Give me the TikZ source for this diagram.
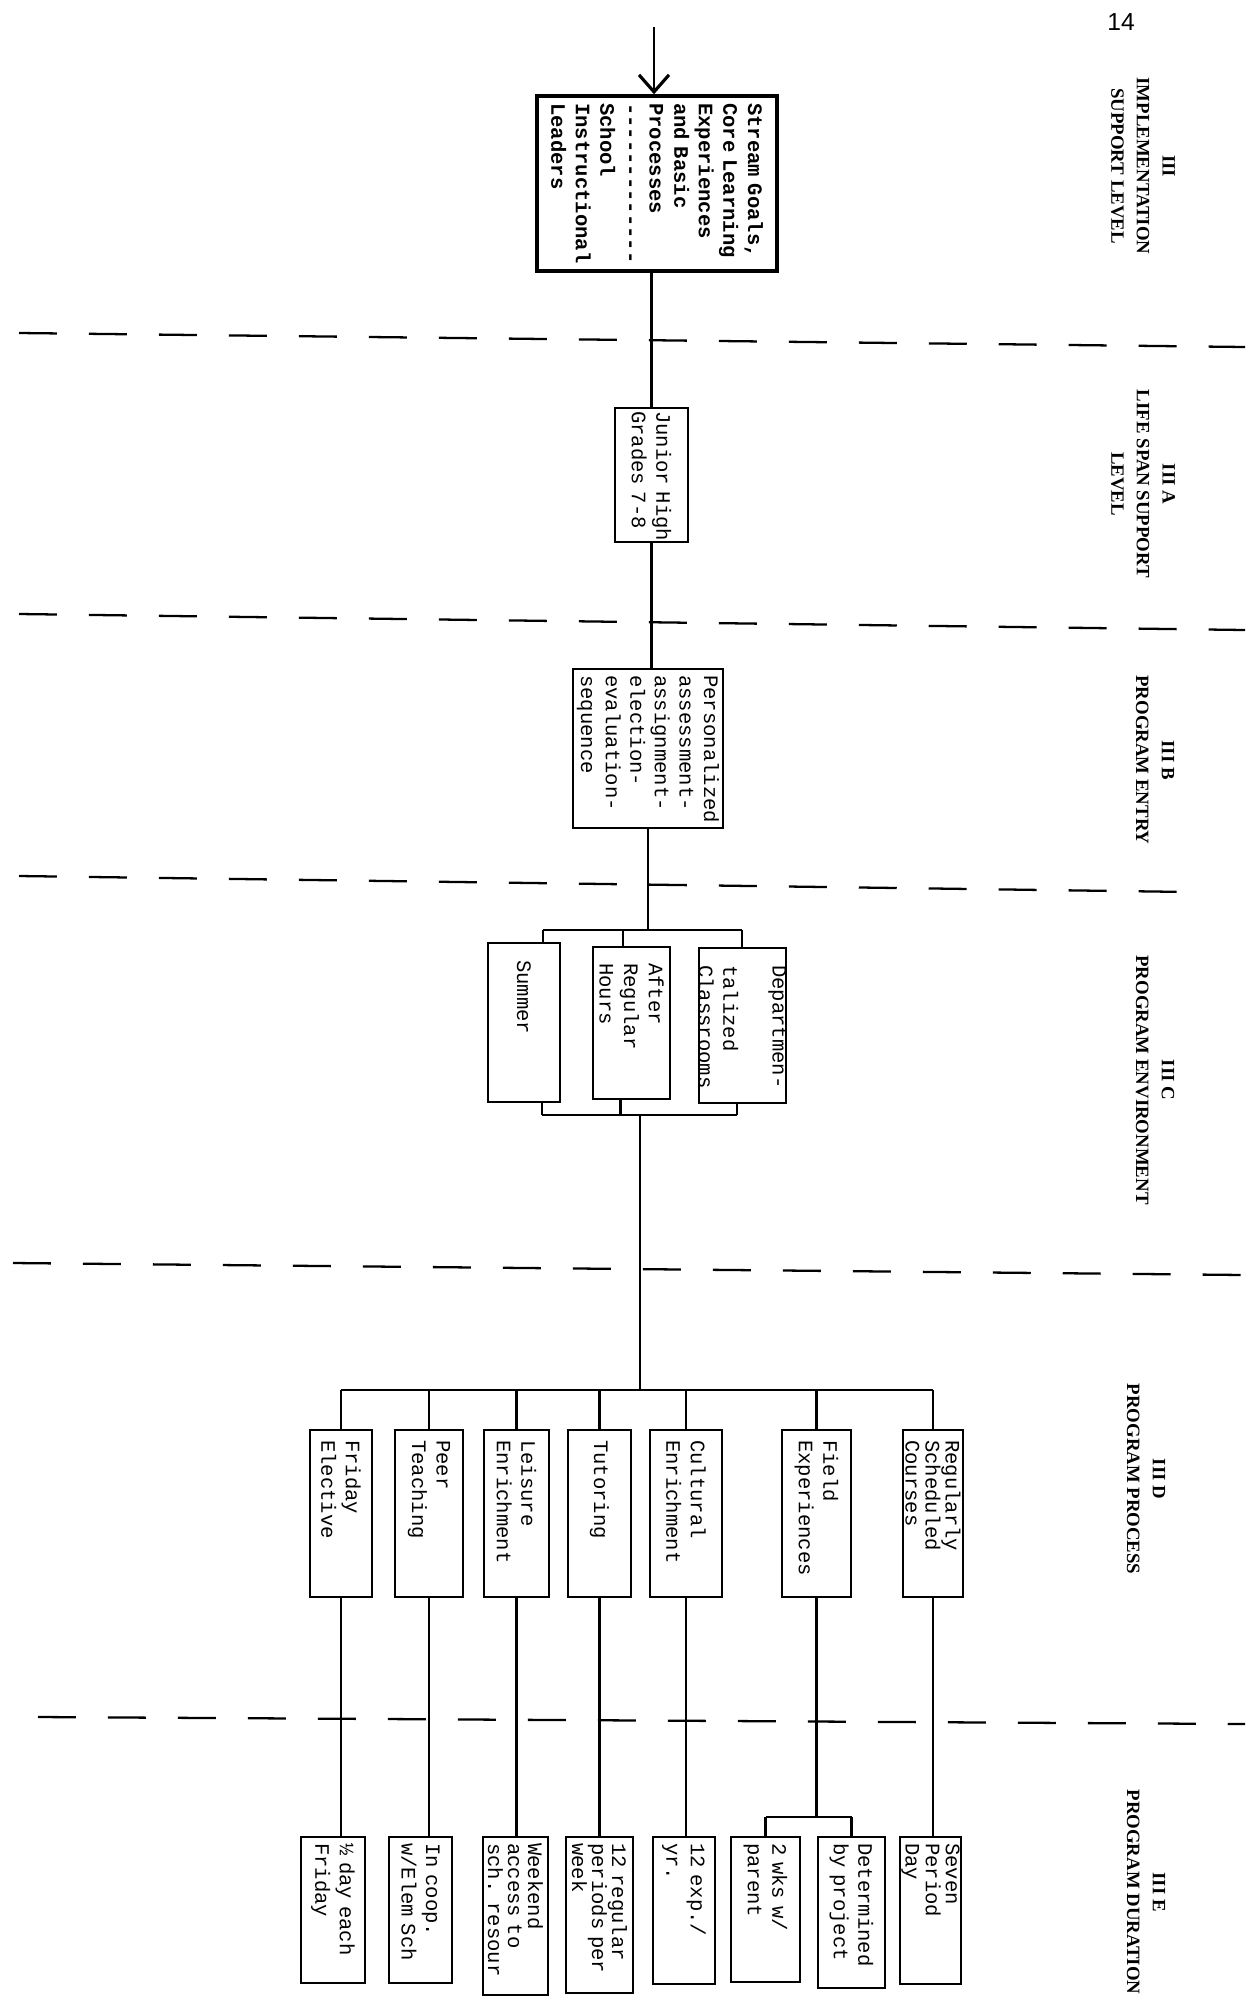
\documentclass[tikz,border=0pt]{standalone}
\usepackage{fontspec}
\usetikzlibrary{arrows.meta}
\newfontfamily\tyfont{Liberation Mono}
\newfontfamily\capsfont{Liberation Serif}
\newfontfamily\pgnfont{Liberation Sans}
\begin{document}
\begin{tikzpicture}[x=0.02cm, y=-0.02cm,
  bx/.style={draw, rotate=-90, align=left, inner ysep=0pt, line width=1.3pt,
    font=\tyfont\fontsize{11.7}{14}\selectfont},
  tight/.style={font=\tyfont\fontsize{11.7}{11.4}\selectfont},
  sz/.style n args={3}{minimum height=#1, text width=#2, inner xsep=#3},
  wire/.style={line width=1.3pt},
  lvl/.style={line width=1.3pt, dash pattern=on 0.76cm off 0.64cm},
  lab/.style={rotate=-90, align=center, inner sep=0pt,
    font=\capsfont\bfseries\fontsize{10.7}{14.6}\selectfont}]
\useasboundingbox (0,0) rectangle (1248,2002);

% page number
\node[font=\pgnfont\fontsize{14}{14}\selectfont, inner sep=0pt] (pg) at (1121,22) {14};

% level headings
\node[lab] (lvl0) at (1143,166) {III\\IMPLEMENTATION\\SUPPORT LEVEL};
\node[lab] (lvlA) at (1143,484) {III A\\LIFE SPAN SUPPORT\\LEVEL};
\node[lab] (lvlB) at (1155,760) {III B\\PROGRAM ENTRY};
\node[lab] (lvlC) at (1155,1080) {III C\\PROGRAM ENVIRONMENT};
\node[lab] (lvlD) at (1146,1479) {III D\\PROGRAM PROCESS};
\node[lab] (lvlE) at (1146,1892) {III E\\PROGRAM DURATION};

% level separators
\draw[lvl] (19,333) -- (1245,347);
\draw[lvl] (19,614) -- (1245,630);
\draw[lvl] (19,876) -- (1190,892);
\draw[lvl] (13,1263) -- (1245,1275);
\draw[lvl] (38,1717) -- (1245,1724);

% III: implementation support
\node[bx, line width=2pt, font=\tyfont\bfseries\fontsize{11.7}{14}\selectfont,
  sz={4.8cm}{3.22cm}{0.14cm}] (top) at (657,183.5)
  {Stream Goals,\\Core Learning\\Experiences\\and Basic\\Processes\\-{}-{}-{}-{}-{}-{}-{}-{}-{}-{}-{}-{}-\\School\\Instructional\\Leaders};

% III A
\node[bx, sz={1.46cm}{2.56cm}{0.06cm}] (jh) at (651.5,475) {Junior~High\\Grades~7-8};

% III B
\node[bx, sz={3.0cm}{2.94cm}{0.12cm}] (pers) at (648,748.5)
  {Personalized\\assessment-\\assignment-\\election-\\evaluation-\\sequence};

% III C
\node[bx, sz={1.44cm}{2.5cm}{0.34cm}] (summer) at (524,1022.5) {Summer};
\node[bx, sz={1.54cm}{2.4cm}{0.32cm}] (after) at (631.5,1023) {After\\Regular\\Hours};
\node[bx, sz={1.42cm}{2.42cm}{0.34cm}] (dept) at (742.5,1025.5) {Departmen-\\talized\\Classrooms};

% III D
\node[bx, sz={1.24cm}{2.94cm}{0.2cm}] (fri) at (341,1513.5) {Friday\\Elective};
\node[bx, sz={1.36cm}{2.94cm}{0.2cm}] (peer) at (429,1513.5) {Peer\\Teaching};
\node[bx, sz={1.3cm}{2.94cm}{0.2cm}] (leis) at (516.5,1513.5) {Leisure\\Enrichment};
\node[bx, sz={1.26cm}{2.94cm}{0.2cm}] (tut) at (599.5,1513.5) {Tutoring};
\node[bx, sz={1.44cm}{2.94cm}{0.2cm}] (cult) at (686,1513.5) {Cultural\\Enrichment};
\node[bx, sz={1.38cm}{2.94cm}{0.2cm}] (field) at (816.5,1513.5) {Field\\Experiences};
\node[bx, tight, sz={1.2cm}{2.94cm}{0.2cm}] (reg) at (933,1513.5) {Regularly\\Scheduled\\Courses};

% III E
\node[bx, sz={1.28cm}{2.68cm}{0.12cm}] (half) at (333,1910) {½ day each\\Friday};
\node[bx, sz={1.26cm}{2.68cm}{0.12cm}] (coop) at (420.5,1910) {In coop.\\w/Elem Sch};
\node[bx, tight, sz={1.3cm}{2.92cm}{0.12cm}] (wknd) at (515.5,1916) {Weekend\\access to\\sch. resour};
\node[bx, tight, sz={1.34cm}{2.88cm}{0.12cm}] (reg12) at (599.5,1915) {12 regular\\periods per\\week};
\node[bx, sz={1.24cm}{2.7cm}{0.12cm}] (exp) at (684,1910.5) {12 exp./\\yr.};
\node[bx, sz={1.38cm}{2.66cm}{0.12cm}] (wks) at (765.5,1909.5) {2 wks w/\\parent};
\node[bx, sz={1.34cm}{2.78cm}{0.12cm}] (det) at (851.5,1912.5) {Determined\\by project};
\node[bx, tight, sz={1.22cm}{2.7cm}{0.12cm}] (seven) at (930.5,1910.5) {Seven\\Period\\Day};

% incoming arrow and the chain down to the environments
\coordinate (src) at (654,27);
\draw[wire, -{Straight Barb[length=0.34cm, width=0.6cm, line width=1.8pt]}] (src) -- (src |- top.west);
\draw[wire] (jh.west) -- (jh.west |- top.east);
\draw[wire] (jh.east) -- (jh.east |- pers.west);

% environment bracket
\coordinate (eTL) at (543,930);
\coordinate (eTR) at (742,930);
\coordinate (eBL) at (542,1115);
\coordinate (eBR) at (737,1115);
\coordinate (eBm) at (640,1115);
\draw[wire] (pers.east) -- (pers.east |- eTL);
\draw[wire] (eTL) -- (eTR);
\draw[wire] (eTL) -- (eTL |- summer.west);
\draw[wire] ([xshift=-0.17cm]after.west) -- ([xshift=-0.17cm]after.west |- eTL);
\draw[wire] (eTR) -- (eTR |- dept.west);
\draw[wire] (eBL) -- (eBR);
\draw[wire] (summer.east -| eBL) -- (eBL);
\draw[wire] ([xshift=-0.22cm]after.east) -- ([xshift=-0.22cm]after.east |- eBL);
\draw[wire] (dept.east -| eBR) -- (eBR);

% process bar
\coordinate (pL) at (341,1390);
\coordinate (pR) at (933,1390);
\draw[wire] (eBm) -- (eBm |- pL);
\draw[wire] (pL) -- (pR);
\foreach \n in {fri,peer,leis,tut,cult,field,reg}
  \draw[wire] (\n.west) -- (\n.west |- pL);

% process to duration
\foreach \a/\b in {fri/half,peer/coop,leis/wknd,tut/reg12,cult/exp,reg/seven}
  \draw[wire] (\a.east) -- (\a.east |- \b.west);
\coordinate (fS) at (816,1817);
\draw[wire] (field.east) -- (field.east |- fS);
\draw[wire] (wks.west |- fS) -- (det.west |- fS);
\draw[wire] (wks.west) -- (wks.west |- fS);
\draw[wire] (det.west) -- (det.west |- fS);
\end{tikzpicture}
\end{document}
